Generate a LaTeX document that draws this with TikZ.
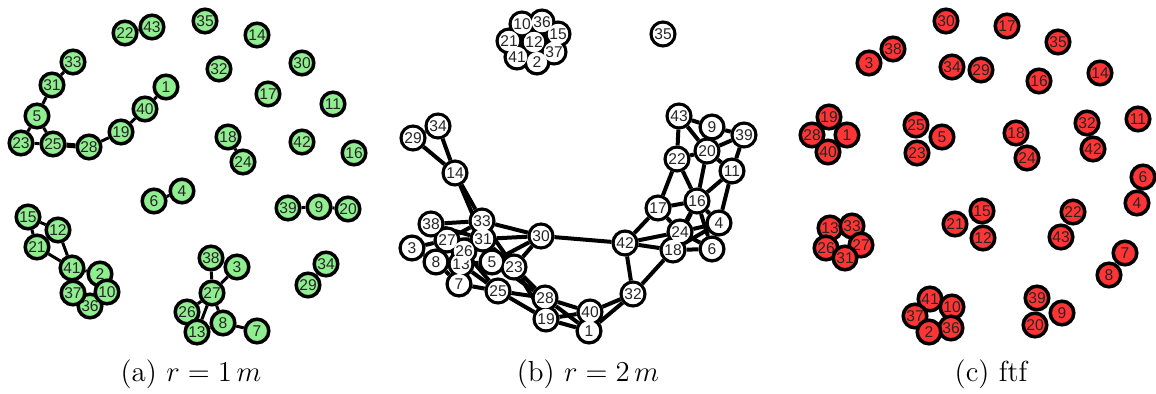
\documentclass[tikz,border=0pt]{standalone}
\usepackage{fontspec}
\newfontfamily\labfont{Liberation Sans}
\usetikzlibrary{backgrounds}
\definecolor{lgreen}{HTML}{90EE90}
\definecolor{lred}{HTML}{FF3535}
\begin{document}
\begin{tikzpicture}[x=0.5pt,y=-0.5pt,
  nd/.style={circle,draw=black,line width=1.75pt,minimum size=11.8pt,inner sep=0pt,
     font=\labfont\fontsize{7.8}{7.8}\selectfont,text=black!85},
  gnode/.style={nd,fill=lgreen},
  rnode/.style={nd,fill=lred},
  bnode/.style={nd,fill=white},
  bfill/.style={circle,fill=white,minimum size=10.05pt,inner sep=0pt,
     font=\labfont\fontsize{7.8}{7.8}\selectfont,text=black!85},
  aedge/.style={line width=1.5pt},
  bedge/.style={line width=2pt},
  captext/.style={anchor=base,font=\fontsize{14.5}{17}\selectfont}]
\useasboundingbox (0,0) rectangle (1156,394);
% ---------- panel a ----------
\foreach \n/\x/\y in {22/125/33,43/152/27,35/205/21,14/257/35,33/73/62,32/219/69,30/302/63,
  31/52/85,1/166/87,17/268/94,11/333/104,40/145/109,5/37/116,19/121/132,18/228/137,
  42/302/142,23/21/143,25/53/144,28/89/147,16/354/153,24/243/162,4/182/191,6/154/201,
  39/288/208,9/319/207,20/348/209,15/28/217,12/58/230,21/37/247,38/211/258,3/237/267,
  34/326/264,41/72/268,2/100/274,29/308/285,27/212/293,36/90/306,37/73/293,10/107/292,
  26/187/312,8/223/323,13/197/332,7/257/331}
  \node[gnode] (a\n) at (\x,\y) {\n};
\begin{scope}[on background layer]
\foreach \s/\t in {33/31,31/5,5/23,5/25,23/25,28/19,19/40,40/1,6/4,39/9,9/20,34/29,
  15/12,15/21,21/12,12/41,21/41,41/37,41/2,2/10,37/36,10/36,38/27,3/27,27/26,27/13,
  27/8,26/13,13/8,8/7,18/24,22/43}
  \draw[aedge] (a\s) -- (a\t);
\draw[line width=2.5pt] (a25) -- (a28);
\end{scope}
% ---------- panel b ----------
\foreach \n/\x/\y in {1/589/331,2/537/62,3/412/248,4/719/223,5/492/262,6/712/249,7/459/284,
  8/436/262,9/712/127,10/522/24,11/732/171,12/534/42,13/461/264,14/455/173,15/558/34,
  16/697/201,17/658/208,18/673/250,19/546/319,20/707/151,21/509/41,22/677/159,23/514/267,
  24/680/232,25/498/291,26/464/251,27/447/240,28/545/298,29/413/138,30/541/236,31/483/239,
  32/633/294,33/482/221,34/438/126,35/663/34,36/542/22,37/554/52,38/431/224,39/744/135,
  40/590/312,41/517/57,42/625/243,43/679/116}
  \node[bnode] (b\n) at (\x,\y) {};
\begin{scope}[on background layer]
\foreach \s/\t in {14/29,14/34,29/34,14/33,14/31,38/33,38/31,38/27,3/27,3/8,27/33,27/31,
  26/31,13/5,8/7,7/25,13/25,26/25,31/5,33/30,31/30,5/30,23/30,31/23,33/23,
  25/28,25/19,5/28,23/28,23/19,28/40,28/1,19/40,19/1,40/32,1/32,
  43/22,43/20,43/9,9/39,20/39,9/20,39/11,20/11,22/20,22/16,20/16,11/16,11/4,
  17/22,17/16,17/24,16/24,16/4,16/6,16/18,24/4,24/6,18/6,18/4,24/18,
  42/17,42/24,42/18,42/32,42/30,32/18,
  10/36,36/15,15/37,37/2,2/41,41/21,21/10,12/10,12/2}
  \draw[bedge] (b\s) -- (b\t);
\end{scope}
\foreach \n in {1,...,43}
  \node[bfill] at (b\n) {\n};
% ---------- panel c ----------
\foreach \n/\x/\y in {30/946/21,17/1007/26,38/893/49,35/1058/42,3/869/63,34/952/67,29/981/70,
  16/1039/81,14/1100/73,19/829/117,28/812/135,1/847/135,40/828/152,25/916/125,5/942/137,
  23/917/153,18/1016/133,24/1027/158,32/1087/123,42/1093/149,11/1138/119,6/1143/177,
  4/1137/203,15/982/211,22/1073/212,13/830/228,33/852/226,21/955/224,12/983/238,
  43/1061/237,26/826/248,27/861/245,31/845/258,7/1125/253,8/1109/275,41/930/299,
  10/952/307,39/1037/298,9/1062/313,37/915/316,36/951/328,2/929/332,20/1035/325}
  \node[rnode] (c\n) at (\x,\y) {\n};
% ---------- captions ----------
\node[captext] (capa) at (191,382) {(a) $r=1\,m$};
\node[captext] (capb) at (588,382) {(b) $r=2\,m$};
\node[captext] (capc) at (991,382) {(c) ftf};
\end{tikzpicture}
\end{document}
